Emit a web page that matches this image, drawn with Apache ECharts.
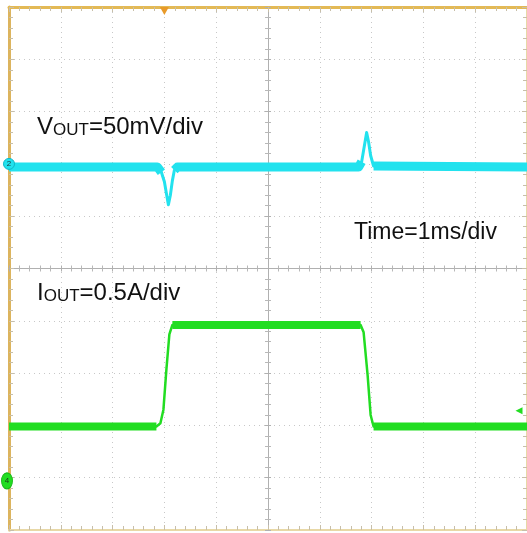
<!DOCTYPE html>
<html>
<head>
<meta charset="utf-8">
<script src="https://cdn.jsdelivr.net/npm/echarts@6/dist/echarts.min.js"></script>
<style>
  html, body { margin: 0; padding: 0; background: #ffffff; }
  #chart { width: 527px; height: 533px; }
</style>
</head>
<body>
<div id="chart"></div>
<script>
// ---- Data (time in ms relative to trigger) ----
// Channel 2: VOUT ripple, mV (50 mV/div)
const vTime = [-3, -0.135, -0.058, 0.0, 0.038, 0.077, 0.115, 0.154, 0.192, 0.25, 3.75, 3.808, 3.846, 3.904, 3.942, 3.981, 4.038, 7];
const vOut  = [-3, -3, -8, -17, -28, -39, -30, -16, -6, -3, -3, 2, 13, 30, 21, 8, -2, -3];
// Channel 4: IOUT load step, A (0.5 A/div)
const iTime = [-3, -0.154, -0.077, -0.019, 0.038, 0.096, 0.154, 3.788, 3.846, 3.923, 3.981, 4.038, 7];
const iOut  = [0.49, 0.49, 0.52, 0.65, 1.03, 1.37, 1.46, 1.46, 1.39, 0.98, 0.60, 0.49, 0.49];
// Scope markers
const triggerTime = 0;      // ms
const triggerLevel = 0.64;  // A (channel 4)
const ch4Ground = -0.03;    // A, channel-4 ground marker
// Axis scales
const timeRange = [-3, 7];        // 1 ms/div, 10 div
const vRange = [-350, 150];       // 50 mV/div
const iRange = [-0.5, 4.5];       // 0.5 A/div
const divRange = [-5, 5];         // graticule divisions

// Labels
const labelV = ['V', 'OUT', '=50mV/div'];
const labelI = ['I', 'OUT', '=0.5A/div'];
const labelT = 'Time=1ms/div';

const vSeries = vTime.map((t, k) => [t, vOut[k]]);
const iSeries = iTime.map((t, k) => [t, iOut[k]]);
const vBase = vOut[0];
const iLow = iOut[0], iHigh = Math.max.apply(null, iOut);
// noise band only on the (nearly) flat parts of each trace
const vBand = vSeries.map(p => Math.abs(p[1] - vBase) <= 5.5 ? p : [p[0], null]);
const iBand = iSeries.map(p => (Math.abs(p[1] - iLow) < 0.005 || Math.abs(p[1] - iHigh) < 0.005) ? p : [p[0], null]);

const CYAN = '#22e2ee';
const GREEN = '#22dd22';
const FONT = 'Liberation Sans, Arial, sans-serif';

function borderAxis(base) {
  return Object.assign({
    type: 'value',
    axisLabel: { show: false },
    splitLine: { show: false },
    axisTick: { show: true, inside: true, length: 5, lineStyle: { color: '#c8bfa8', width: 1 } },
    minorTick: { show: true, splitNumber: 5, length: 4, lineStyle: { color: '#c8bfa8', width: 1 } },
    minorSplitLine: { show: false }
  }, base);
}
function centerAxis(base, inside, split) {
  return Object.assign({
    type: 'value',
    min: divRange[0], max: divRange[1], interval: 1,
    axisLabel: { show: false },
    axisLine: { show: true, onZero: true, onZeroAxisIndex: 2, lineStyle: { color: '#b0b0b0', width: 1 } },
    axisTick: { show: true, inside: inside, length: 3, lineStyle: { color: '#b0b0b0', width: 1 } },
    minorTick: { show: true, splitNumber: 5, length: 3, lineStyle: { color: '#b8b8b8', width: 1 } },
    splitLine: { show: split, lineStyle: { color: '#c8c8c8', width: 1, type: [1, 4] } }
  }, base);
}

const richLabel = {
  a: { fontSize: 24, fontFamily: FONT, fill: '#111', color: '#111', verticalAlign: 'bottom' },
  b: { fontSize: 17, fontFamily: FONT, fill: '#111', color: '#111', verticalAlign: 'bottom' }
};

const chart = echarts.init(document.getElementById('chart'), null, { renderer: 'canvas' });
chart.setOption({
  animation: false,
  backgroundColor: '#ffffff',
  grid: { left: 9, top: 7, right: -2, bottom: 3, containLabel: false },
  xAxis: [
    borderAxis({ min: timeRange[0], max: timeRange[1], interval: 1, position: 'bottom',
      axisLine: { show: true, onZero: false, lineStyle: { color: '#e8d8a6', width: 2 } } }),
    borderAxis({ min: timeRange[0], max: timeRange[1], interval: 1, position: 'top',
      axisLine: { show: true, onZero: false, lineStyle: { color: '#e3b955', width: 3 } } }),
    centerAxis({ position: 'bottom' }, false, true),
    centerAxis({ position: 'bottom' }, true, false)
  ],
  yAxis: [
    borderAxis({ min: vRange[0], max: vRange[1], interval: 50, position: 'left',
      axisLine: { show: true, onZero: false, lineStyle: { color: '#dcb45e', width: 3 } } }),
    borderAxis({ min: iRange[0], max: iRange[1], interval: 0.5, position: 'right',
      axisLine: { show: true, onZero: false, lineStyle: { color: '#e8d8a6', width: 2 } } }),
    centerAxis({ position: 'left' }, false, true),
    centerAxis({ position: 'left' }, true, false)
  ],
  series: [
    { name: 'VOUT band', type: 'line', xAxisIndex: 0, yAxisIndex: 0, data: vBand,
      symbol: 'none', connectNulls: false, silent: true, z: 3,
      lineStyle: { color: CYAN, width: 9, cap: 'butt', join: 'round' } },
    { name: 'VOUT', type: 'line', xAxisIndex: 0, yAxisIndex: 0, data: vSeries,
      symbol: 'none', silent: true, z: 4,
      lineStyle: { color: CYAN, width: 3, join: 'round' },
      markPoint: { silent: true, animation: false, data: [
        { coord: [timeRange[0], 0], symbol: 'circle', symbolSize: 11,
          itemStyle: { color: CYAN, borderColor: '#10b8c8', borderWidth: 1 },
          label: { show: true, formatter: '2', fontSize: 8, color: '#1a3a40', fontFamily: FONT, position: 'inside' } }
      ] } },
    { name: 'IOUT band', type: 'line', xAxisIndex: 0, yAxisIndex: 1, data: iBand,
      symbol: 'none', connectNulls: false, silent: true, z: 3,
      lineStyle: { color: GREEN, width: 8, cap: 'butt' } },
    { name: 'IOUT', type: 'line', xAxisIndex: 0, yAxisIndex: 1, data: iSeries,
      symbol: 'none', silent: true, z: 4,
      lineStyle: { color: GREEN, width: 2.5, join: 'round' },
      markPoint: { silent: true, animation: false, data: [
        { coord: [timeRange[0], ch4Ground], symbol: 'circle', symbolSize: [11, 16], symbolOffset: [-2, 0],
          itemStyle: { color: GREEN, borderColor: '#18b818', borderWidth: 1 },
          label: { show: true, formatter: '4', fontSize: 8, color: '#1a401a', fontFamily: FONT, position: 'inside' } },
        { coord: [timeRange[1], triggerLevel], symbol: 'triangle', symbolSize: [7, 7], symbolRotate: 90,
          symbolOffset: [-8, 0], itemStyle: { color: GREEN }, label: { show: false } },
        { coord: [triggerTime, iRange[1]], symbol: 'triangle', symbolSize: [9, 8], symbolRotate: 180,
          symbolOffset: [0, 4], itemStyle: { color: '#e89a2a' }, label: { show: false } }
      ] } }
  ],
  graphic: [
    { type: 'text', x: 37, y: 127, z: 10, silent: true,
      style: { text: '{a|' + labelV[0] + '}{b|' + labelV[1] + '}{a|' + labelV[2] + '}', verticalAlign: 'middle', rich: richLabel } },
    { type: 'text', x: 354, y: 233, z: 10, silent: true,
      style: { text: labelT, fontSize: 23, fontFamily: FONT, fill: '#111', verticalAlign: 'middle' } },
    { type: 'text', x: 37, y: 293, z: 10, silent: true,
      style: { text: '{a|' + labelI[0] + '}{b|' + labelI[1] + '}{a|' + labelI[2] + '}', verticalAlign: 'middle', rich: richLabel } }
  ]
});
</script>
</body>
</html>
